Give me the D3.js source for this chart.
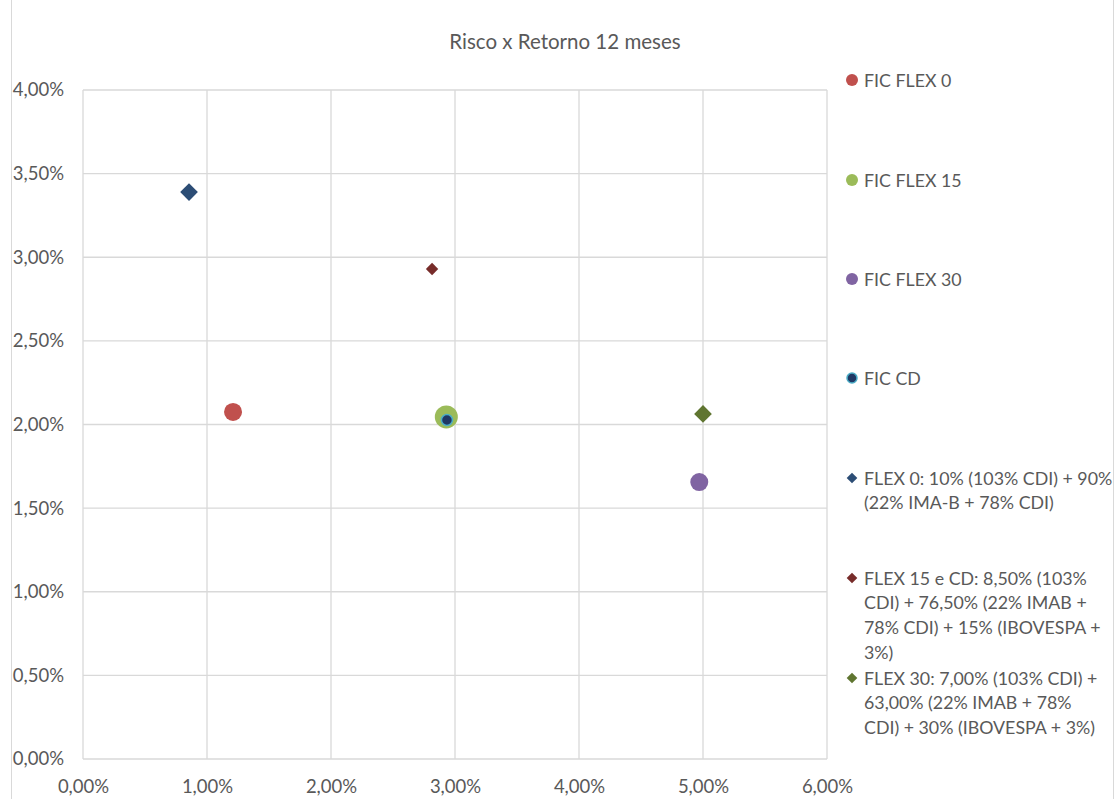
<!DOCTYPE html>
<html>
<head>
<meta charset="utf-8">
<script src="https://cdn.jsdelivr.net/npm/d3@7"></script>
<style>
  body { margin: 0; background: #fff; }
  text { font-family: Lato, "Noto Sans", sans-serif; fill: #595959; }
</style>
</head>
<body>
<div id="chart"></div>
<script>
// dados
const seriesNames = [
  ["FIC FLEX 0"],
  ["FIC FLEX 15"],
  ["FIC FLEX 30"],
  ["FIC CD"],
  ["FLEX 0: 10% (103% CDI) + 90%", "(22% IMA-B + 78% CDI)"],
  ["FLEX 15 e CD: 8,50% (103%", "CDI) + 76,50% (22% IMAB +", "78% CDI) + 15% (IBOVESPA +", "3%)"],
  ["FLEX 30: 7,00% (103% CDI) +", "63,00% (22% IMAB + 78%", "CDI) + 30% (IBOVESPA + 3%)"]
];
const risco = [0.0121, 0.0293, 0.0497, 0.02935, 0.00855, 0.02815, 0.0500];   // eixo x
const retorno = [0.02075, 0.02045, 0.01656, 0.02027, 0.0339, 0.0293, 0.02063]; // eixo y
const xTicks = [0, 0.01, 0.02, 0.03, 0.04, 0.05, 0.06];
const yTicks = [0, 0.005, 0.01, 0.015, 0.02, 0.025, 0.03, 0.035, 0.04];

const styles = [
  { shape: "circle", fill: "#c0504d", r: 9 },
  { shape: "circle", fill: "#9bbb59", r: 11.5 },
  { shape: "circle", fill: "#8064a2", r: 9 },
  { shape: "circle", fill: "#1f3864", r: 5.5, stroke: "#4bacc6" },
  { shape: "diamond", fill: "#2c4d75", s: 20 },
  { shape: "diamond", fill: "#772c2a", s: 14 },
  { shape: "diamond", fill: "#5f7530", s: 20 }
];

const width = 1116, height = 799;
const margin = { top: 90, right: 289, bottom: 40, left: 83 };

const svg = d3.select("#chart").append("svg")
  .attr("width", width).attr("height", height);

// borda da área do gráfico
svg.append("rect")
  .attr("x", 11.5).attr("y", -2).attr("width", 1102).attr("height", height + 4)
  .attr("fill", "none").attr("stroke", "#d9d9d9");

const x = d3.scaleLinear().domain([0, 0.06]).range([margin.left, width - margin.right]);
const y = d3.scaleLinear().domain([0, 0.04]).range([height - margin.bottom, margin.top]);
const fmt = v => d3.format(".2f")(v * 100).replace(".", ",") + "%";

svg.append("text")
  .attr("x", 565).attr("y", 49)
  .attr("text-anchor", "middle").attr("font-size", 20.5)
  .text("Risco x Retorno 12 meses");

// grade
svg.append("g").selectAll("line").data(xTicks).join("line")
  .attr("x1", d => x(d)).attr("x2", d => x(d))
  .attr("y1", y(0)).attr("y2", y(0.04))
  .attr("stroke", "#d9d9d9").attr("stroke-width", 1.3);
svg.append("g").selectAll("line").data(yTicks).join("line")
  .attr("x1", x(0)).attr("x2", x(0.06))
  .attr("y1", d => y(d)).attr("y2", d => y(d))
  .attr("stroke", "#d9d9d9").attr("stroke-width", 1.3);

const xAxis = svg.append("g")
  .attr("transform", `translate(0,${y(0)})`)
  .call(d3.axisBottom(x).tickValues(xTicks).tickFormat(fmt).tickSize(0).tickPadding(21));
const yAxis = svg.append("g")
  .attr("transform", `translate(${margin.left},0)`)
  .call(d3.axisLeft(y).tickValues(yTicks).tickFormat(fmt).tickSize(0).tickPadding(19));
[xAxis, yAxis].forEach(a => {
  a.select(".domain").remove();
  a.selectAll("text").attr("font-size", 18.5).style("font-family", "Lato, 'Noto Sans', sans-serif").attr("fill", "#595959");
});

function drawMarker(g, st) {
  if (st.shape === "circle") {
    g.append("circle").attr("r", st.r).attr("fill", st.fill)
      .attr("stroke", st.stroke || "none").attr("stroke-width", st.stroke ? 1.5 : 0);
  } else {
    g.append("path")
      .attr("d", d3.symbol(d3.symbolDiamond2, st.s * st.s / 2)())
      .attr("fill", st.fill);
  }
}

// pontos
risco.forEach((v, i) => {
  const g = svg.append("g").attr("transform", `translate(${x(v)},${y(retorno[i])})`);
  drawMarker(g, styles[i]);
});

// legenda
const legendY = [80, 180, 279, 378, 478, 578, 678];
seriesNames.forEach((lines, i) => {
  const g = svg.append("g").attr("transform", `translate(852,${legendY[i]})`);
  const st = styles[i];
  const small = st.shape === "circle"
    ? Object.assign({}, st, { r: st.stroke ? 5 : 6 })
    : Object.assign({}, st, { s: 12 });
  drawMarker(g, small);
  const t = g.append("text").attr("x", 12).attr("y", 6.5).attr("font-size", 17.8);
  lines.forEach((l, j) => t.append("tspan").attr("x", 12).attr("dy", j ? 24.8 : 0).text(l));
});
</script>
</body>
</html>
